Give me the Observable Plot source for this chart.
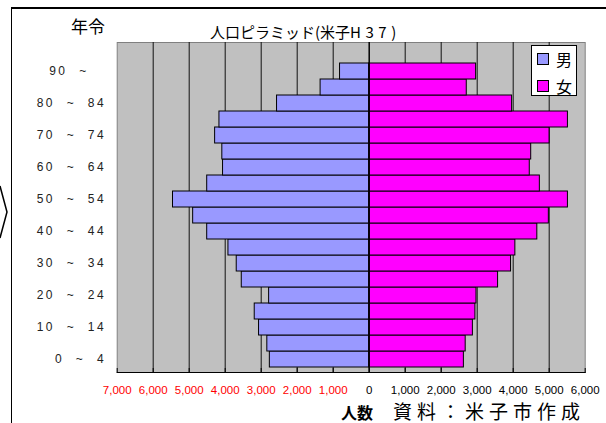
<!DOCTYPE html>
<html>
<head>
<meta charset="utf-8">
<script src="https://cdn.jsdelivr.net/npm/d3@7"></script>
<script src="https://cdn.jsdelivr.net/npm/@observablehq/plot@0.6"></script>
<style>
  html, body { margin: 0; padding: 0; background: #fff; }
  #wrap { position: relative; width: 606px; height: 423px; overflow: hidden; background: #fff; }
  #wrap svg g[aria-label="y-axis tick label"] text { letter-spacing: 2.5px; }
  .abs { position: absolute; line-height: 1; white-space: nowrap; font-family: "Noto Sans CJK JP", sans-serif; color: #000; }
</style>
</head>
<body>
<div id="wrap"></div>
<script>
// ---- data (bottom to top) ----
const ages = ["0~4","5~9","10~14","15~19","20~24","25~29","30~34","35~39","40~44","45~49",
              "50~54","55~59","60~64","65~69","70~74","75~79","80~84","85~89","90~"];
const male   = [2760, 2830, 3060, 3180, 2780, 3540, 3680, 3910, 4500, 4890,
                5450, 4500, 4060, 4080, 4280, 4160, 2560, 1350, 810];
const female = [2630, 2680, 2880, 2950, 2980, 3580, 3940, 4060, 4670, 4990,
                5520, 4740, 4460, 4500, 5010, 5520, 3970, 2710, 2970];
const yTickAges   = ["0~4","10~14","20~24","30~34","40~44","50~54","60~64","70~74","80~84","90~"];
const yTickLabels = ["0  ~  4","10  ~  14","20  ~  24","30  ~  34","40  ~  44","50  ~  54","60  ~  64","70  ~  74","80  ~  84","90  ~   "];
const xTicks = [-7000,-6000,-5000,-4000,-3000,-2000,-1000,0,1000,2000,3000,4000,5000,6000];
const titleMain = "人口ピラミッド(米子";
const titleTail = "H37)";
const seriesNames = ["男","女"];
const colors = ["#9999ff","#ff00ff"];

const rows = ages.map((a, i) => ({age: a, male: male[i], female: female[i]}));
const yDomain = [""].concat(ages.slice().reverse());
const fmt = d3.format(",");
const labelOf = new Map(yTickAges.map((a, i) => [a, yTickLabels[i].replace(/ /g, "\u00a0")]));

const chart = Plot.plot({
  width: 606, height: 423,
  marginLeft: 116.7, marginRight: 21.3, marginTop: 42, marginBottom: 51,
  style: {background: "transparent", overflow: "visible"},
  x: {domain: [-7000, 6000], axis: null},
  y: {domain: yDomain, padding: 0, axis: null},
  marks: [
    Plot.frame({fill: "#c0c0c0", stroke: "#808080"}),
    Plot.ruleX(xTicks.filter(d => d !== 0 && d !== -7000 && d !== 6000), {x: d => d, stroke: "#111", strokeWidth: 1}),
    Plot.barX(rows, {y: "age", x1: 0, x2: d => -d.male, fill: colors[0], stroke: "#000", strokeWidth: 1}),
    Plot.barX(rows, {y: "age", x1: 0, x2: "female", fill: colors[1], stroke: "#000", strokeWidth: 1}),
    Plot.ruleX([0], {stroke: "#000", strokeWidth: 1.5}),
    Plot.ruleX(xTicks, {x: d => d, insetTop: 326, stroke: "#000", strokeWidth: 1}),
    Plot.frame({anchor: "bottom", stroke: "#000", strokeWidth: 1.2}),
    Plot.axisY(yTickAges, {label: null, tickSize: 0, tickPadding: 11, tickFormat: d => labelOf.get(d),
      fontSize: 12, fontFamily: "Liberation Sans, Arial, sans-serif", fill: "#222"}),
    Plot.text(xTicks.filter(d => d < 0), {x: d => d, frameAnchor: "bottom", dy: 21, text: d => fmt(Math.abs(d)),
      fill: "#ff0000", fontSize: 11.5, fontFamily: "Liberation Sans, Arial, sans-serif"}),
    Plot.text(xTicks.filter(d => d >= 0), {x: d => d, frameAnchor: "bottom", dy: 21, text: d => fmt(d),
      fill: "#000", fontSize: 11.5, fontFamily: "Liberation Sans, Arial, sans-serif"})
  ]
});
chart.style.position = "absolute";
chart.style.left = "0px";
chart.style.top = "0px";

const wrap = document.getElementById("wrap");
wrap.appendChild(chart);

function add(html, css) {
  const d = document.createElement("div");
  d.className = "abs";
  d.innerHTML = html;
  d.style.cssText += css;
  wrap.appendChild(d);
  return d;
}
// frame lines and decoration
add("", "left:11px;top:7px;width:595px;height:1.5px;background:#000;");
add("", "left:11px;top:7px;width:1.3px;height:416px;background:#000;");
add('<svg width="10" height="60"><polyline points="0,1 7,27 0,53" fill="none" stroke="#000" stroke-width="1.5"/></svg>', "left:0px;top:185px;");
// texts
add(`${titleMain}<span style="letter-spacing:4.5px">${titleTail}</span>`, "left:210px;top:24px;font-size:15px;");
add("年令", "left:71px;top:17px;font-size:17px;");
add("人数", "left:341px;top:404px;font-size:16px;font-weight:bold;");
add("資料：米子市作成", "left:393px;top:401px;font-size:19px;letter-spacing:5px;");
// legend
add("", "left:531px;top:45px;width:44px;height:49px;border:1px solid #000;background:#fff;");
seriesNames.forEach((n, i) => {
  add("", `left:537px;top:${53 + i*26.5}px;width:10px;height:10px;border:1px solid #000;background:${colors[i]};`);
  add(n, `left:556px;top:${51 + i*26.5}px;font-size:16px;`);
});
</script>
</body>
</html>
